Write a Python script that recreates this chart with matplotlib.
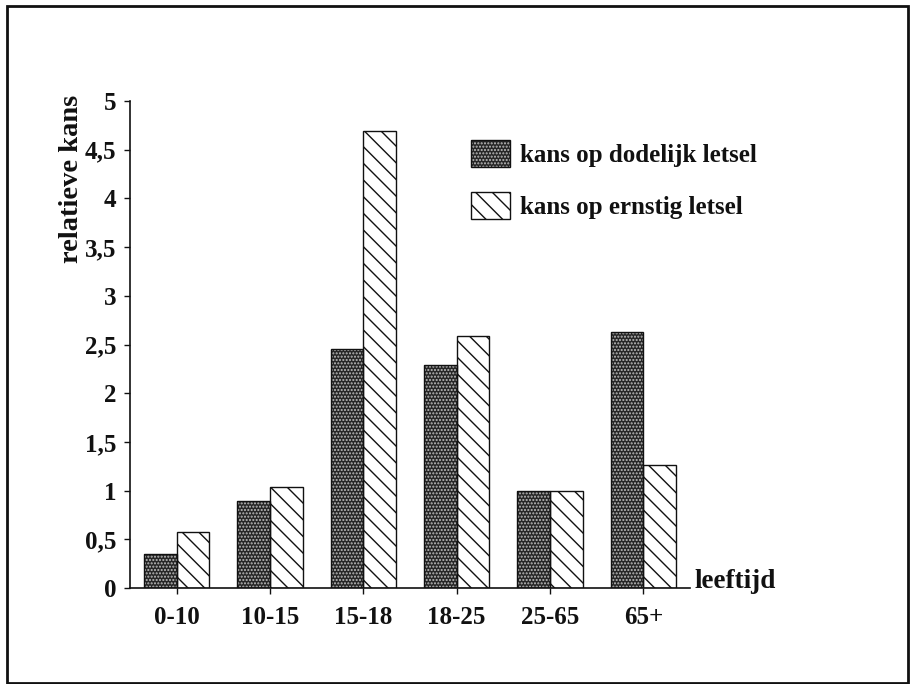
import matplotlib
matplotlib.use("Agg")
import matplotlib.pyplot as plt
import matplotlib.patches as mpatches
import matplotlib.transforms as mtransforms
from matplotlib.legend_handler import HandlerTuple
from matplotlib.ticker import FuncFormatter
import numpy as np

categories = ["0-10", "10-15", "15-18", "18-25", "25-65", "65+"]
dodelijk = [0.35, 0.89, 2.45, 2.29, 1.00, 2.63]
ernstig = [0.57, 1.04, 4.69, 2.59, 1.00, 1.26]
series_labels = ["kans op dodelijk letsel", "kans op ernstig letsel"]
yticks = [0, 0.5, 1, 1.5, 2, 2.5, 3, 3.5, 4, 4.5, 5]
ylabel = "relatieve kans"
xlabel = "leeftijd"

plt.rcParams["hatch.linewidth"] = 1.0
FONT = "Liberation Serif"
INK = "#111111"

fig = plt.figure(figsize=(9.12, 6.84), dpi=100)
W, H = 912, 684
ax = fig.add_axes([130 / W, 1 - 588 / H, 560 / W, (588 - 101) / H])

x = np.arange(len(categories))
bw = 0.35

# dark dotted bars
ax.bar(x, dodelijk, width=-bw, align="edge", facecolor="#262626",
       edgecolor="#bdbdbd", hatch=".....", linewidth=0, zorder=2)
ax.bar(x, dodelijk, width=-bw, align="edge", fill=False,
       edgecolor=INK, linewidth=1.0, zorder=3)
# hatched bars
ax.bar(x, ernstig, width=bw, align="edge", facecolor="white",
       edgecolor=INK, hatch="\\\\", linewidth=1.0, zorder=2)

ax.set_xlim(-0.5, 5.5)
ax.set_ylim(0, 5)
ax.set_xticks(x)
ax.set_xticklabels(categories)
ax.set_yticks(yticks)
ax.yaxis.set_major_formatter(FuncFormatter(lambda v, p: ("%g" % v).replace(".", ",")))

for s in ["top", "right"]:
    ax.spines[s].set_visible(False)
for s in ["left", "bottom"]:
    ax.spines[s].set_linewidth(1.2)
    ax.spines[s].set_color(INK)

ax.tick_params(axis="both", direction="out", length=4, width=1.0, colors=INK)
ax.tick_params(axis="x", pad=9)
ax.tick_params(axis="y", pad=6)
for lab in ax.get_xticklabels() + ax.get_yticklabels():
    lab.set_fontfamily(FONT)
    lab.set_fontweight("bold")
    lab.set_fontsize(18)
    lab.set_color(INK)

# y label
fig.text(72 / W, 1 - 95 / H, ylabel, rotation=90, ha="center", va="top",
         family=FONT, weight="bold", fontsize=20.5, color=INK)

# x label at end of axis
trans = mtransforms.offset_copy(ax.transAxes, fig=fig, x=5, y=0, units="dots")
ax.text(1.0, 0.0, xlabel, transform=trans, ha="left", va="baseline",
        family=FONT, weight="bold", fontsize=19.5, color=INK)

# legend
h1_fill = mpatches.Patch(facecolor="#262626", edgecolor="#bdbdbd", hatch=".....", linewidth=0)
h1_edge = mpatches.Patch(fill=False, edgecolor=INK, linewidth=1.0)
h2 = mpatches.Patch(facecolor="white", edgecolor=INK, hatch="\\\\", linewidth=1.0)
leg = fig.legend([(h1_fill, h1_edge), h2], series_labels,
                 handler_map={tuple: HandlerTuple(ndivide=1)},
                 loc="upper left", bbox_to_anchor=(471 / W, 1 - 140 / H),
                 frameon=False, borderpad=0, borderaxespad=0,
                 handlelength=1.55, handleheight=1.3, handletextpad=0.4,
                 labelspacing=0.98,
                 prop=dict(family=FONT, weight="bold", size=18))
for t in leg.get_texts():
    t.set_color(INK)

# outer frame
frame = mpatches.Rectangle((7 / W, 1 / H), (908 - 7) / W, (677) / H,
                           transform=fig.transFigure, fill=False,
                           edgecolor=INK, linewidth=2.0)
fig.patches.append(frame)

fig.savefig("out.png", dpi=100)
